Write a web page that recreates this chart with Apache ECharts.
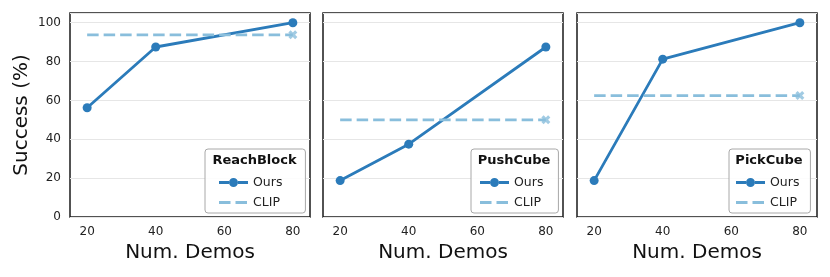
<!DOCTYPE html>
<html>
<head>
<meta charset="utf-8">
<script src="https://cdn.jsdelivr.net/npm/echarts@6/dist/echarts.min.js"></script>
<style>
html,body{margin:0;padding:0;background:#fff;}
#chart{width:830px;height:277px;}
</style>
</head>
<body>
<div id="chart"></div>
<script>
// ---- data ----
const tasks = ['ReachBlock', 'PushCube', 'PickCube'];
const demos = [20, 40, 80];
const oursReach = [56.25, 87.5, 100];
const oursPush = [18.75, 37.5, 87.5];
const oursPick = [18.75, 81.25, 100];
const clipReach = 93.75;
const clipPush = 50;
const clipPick = 62.5;
const clipStart = 20;
const clipEnd = 80;
const xTicks = [20, 40, 60, 80];
const yTicks = [0, 20, 40, 60, 80, 100];

const oursAll = [oursReach, oursPush, oursPick];
const clipAll = [clipReach, clipPush, clipPick];

// ---- style ----
const FONT = 'DejaVu Sans';
const OURS_COLOR = '#2b7bba';
const CLIP_COLOR = '#89bedc';
const gridLefts = [70, 323, 577];
const gridW = 240, gridTop = 13, gridH = 204;
const legendBoxes = [
  {left: 205, padL: 14, padR: 23, cx: 254.5},
  {left: 471, padL: 9, padR: 15, cx: 514},
  {left: 729, padL: 7, padR: 11, cx: 769}
];
const xMarker = 'path://M-2,-4 L0,-2 L2,-4 L4,-2 L2,0 L4,2 L2,4 L0,2 L-2,4 L-4,2 L-2,0 L-4,-2 Z';
// legend icons (29 x 12 box)
const oursIcon = 'path://M0,4.6 H10 V7.4 H0 Z M19,4.6 H29 V7.4 H19 Z ' +
  'M10,6 A4.5,4.5 0 1,1 19,6 A4.5,4.5 0 1,1 10,6 Z ' +
  'M0,0 L0.01,0 L0,0.01 Z M29,12 L28.99,12 L29,11.99 Z';
const clipIcon = 'path://M0,4.6 H11.5 V7.4 H0 Z M16.5,4.6 H28 V7.4 H16.5 Z ' +
  'M0,0 L0.01,0 L0,0.01 Z M29,12 L28.99,12 L29,11.99 Z';

const grids = [], xAxes = [], yAxes = [], series = [], legends = [], graphics = [];
tasks.forEach((task, i) => {
  grids.push({
    left: gridLefts[i], top: gridTop, width: gridW, height: gridH,
    show: true, borderColor: '#1a1a1a', borderWidth: 1.5, backgroundColor: '#fff',
    containLabel: false
  });
  xAxes.push({
    type: 'value', gridIndex: i, min: 15, max: 85,
    axisLine: {show: false}, axisTick: {show: false}, splitLine: {show: false},
    axisLabel: {customValues: xTicks, fontFamily: FONT, fontSize: 12, color: '#222', margin: 9},
    name: 'Num. Demos', nameLocation: 'middle', nameGap: 26,
    nameTextStyle: {fontFamily: FONT, fontSize: 20, color: '#111'}
  });
  yAxes.push({
    type: 'value', gridIndex: i, min: 0, max: 105, interval: 20,
    axisLine: {show: false}, axisTick: {show: false},
    splitLine: {show: true, lineStyle: {color: '#e6e6e6', width: 1}},
    axisLabel: {show: i === 0, customValues: yTicks, fontFamily: FONT, fontSize: 12, color: '#222', margin: 9},
    name: i === 0 ? 'Success (%)' : '', nameLocation: 'middle', nameGap: 38,
    nameTextStyle: {fontFamily: FONT, fontSize: 20, color: '#111'}
  });
  series.push({
    name: 'Ours', type: 'line', xAxisIndex: i, yAxisIndex: i,
    data: demos.map((d, k) => [d, oursAll[i][k]]),
    symbol: 'circle', symbolSize: 9, showAllSymbol: true,
    lineStyle: {color: OURS_COLOR, width: 2.8},
    itemStyle: {color: OURS_COLOR},
    z: 2, animation: false
  });
  series.push({
    name: 'CLIP', type: 'line', xAxisIndex: i, yAxisIndex: i,
    data: [[clipStart, clipAll[i]], [clipEnd, clipAll[i]]],
    symbol: 'none',
    lineStyle: {color: CLIP_COLOR, width: 2.8, type: [11.5, 5]},
    itemStyle: {color: CLIP_COLOR},
    z: 3, animation: false
  });
  series.push({
    name: 'CLIP end', type: 'scatter', xAxisIndex: i, yAxisIndex: i,
    data: [[clipEnd, clipAll[i]]],
    symbol: xMarker, symbolSize: 9,
    itemStyle: {color: CLIP_COLOR},
    z: 4, animation: false, silent: true
  });
  const lb = legendBoxes[i];
  legends.push({
    data: [{name: 'Ours', icon: oursIcon}, {name: 'CLIP', icon: clipIcon}],
    orient: 'vertical',
    left: lb.left, top: 149,
    padding: [27, lb.padR, 4, lb.padL],
    itemWidth: 29, itemHeight: 12, itemGap: 7,
    backgroundColor: 'rgba(255,255,255,0.85)',
    borderColor: '#a8a8a8', borderWidth: 1, borderRadius: 3,
    textStyle: {fontFamily: FONT, fontSize: 12.5, color: '#222'},
    selectedMode: false
  });
  graphics.push({
    type: 'text', x: lb.cx, y: 161, z: 100,
    style: {text: task, font: 'bold 13px "DejaVu Sans"', fill: '#111',
            textAlign: 'center', textVerticalAlign: 'middle'}
  });
});

const chart = echarts.init(document.getElementById('chart'), null, {renderer: 'canvas'});
chart.setOption({
  animation: false,
  backgroundColor: '#fff',
  textStyle: {fontFamily: FONT},
  grid: grids, xAxis: xAxes, yAxis: yAxes, series: series,
  legend: legends, graphic: graphics
});
</script>
</body>
</html>
